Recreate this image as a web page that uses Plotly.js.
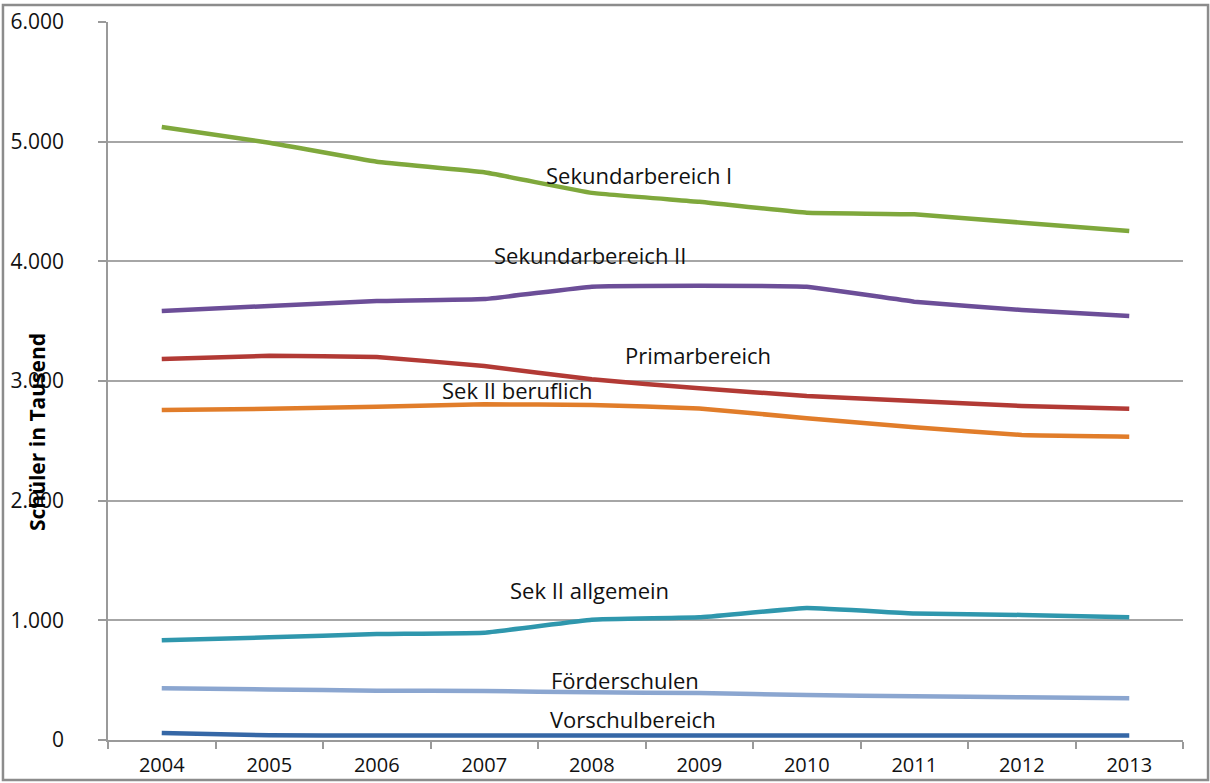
<!DOCTYPE html>
<html>
<head>
<meta charset="utf-8">
<script src="https://cdn.plot.ly/plotly-3.0.1.min.js"></script>
<style>
  html, body { margin: 0; padding: 0; background: #ffffff; }
  #chart { width: 1210px; height: 783px; }
</style>
</head>
<body>
<div id="chart"></div>
<script>
// ---- data (Schüler in Tausend) ----
const years = ["2004", "2005", "2006", "2007", "2008", "2009", "2010", "2011", "2012", "2013"];
const sekundarbereichI  = [5122, 4991, 4832, 4744, 4572, 4498, 4406, 4393, 4323, 4253];
const sekundarbereichII = [3585, 3627, 3668, 3685, 3788, 3796, 3788, 3663, 3593, 3543];
const primarbereich     = [3184, 3211, 3200, 3125, 3014, 2939, 2875, 2833, 2791, 2769];
const sekIIberuflich    = [2758, 2768, 2785, 2805, 2799, 2771, 2688, 2613, 2549, 2535];
const sekIIallgemein    = [833, 858, 886, 897, 1005, 1025, 1103, 1058, 1045, 1025];
const foerderschulen    = [432, 423, 412, 410, 398, 393, 376, 365, 357, 348];
const vorschulbereich   = [58, 39, 38, 38, 38, 38, 38, 38, 38, 38];
const seriesNames = ["Sekundarbereich I", "Sekundarbereich II", "Primarbereich", "Sek II beruflich",
                     "Sek II allgemein", "Förderschulen", "Vorschulbereich"];
const yTicks = [0, 1000, 2000, 3000, 4000, 5000, 6000];
const yAxisTitle = "Schüler in Tausend";

const seriesValues = [sekundarbereichI, sekundarbereichII, primarbereich, sekIIberuflich,
                      sekIIallgemein, foerderschulen, vorschulbereich];
const colors = ["#7fa83c", "#6c4e98", "#b23a35", "#e17d2a", "#2f97ad", "#8ba6d0", "#3567a6"];

const traces = seriesValues.map((vals, i) => ({
  type: "scatter",
  mode: "lines",
  name: seriesNames[i],
  x: years,
  y: vals,
  line: { color: colors[i], width: 4.5, shape: "spline", smoothing: 0.25 },
  hoverinfo: "x+y+name"
}));

// label placement (category index, value) for each series
const labelPos = [
  [4.44, 4720], [3.98, 4050], [4.99, 3215], [3.31, 2925],
  [3.98, 1255], [4.31, 500], [4.38, 175]
];
const annotations = seriesNames.map((n, i) => ({
  text: n, xref: "x", yref: "y", x: labelPos[i][0], y: labelPos[i][1],
  showarrow: false, font: { family: "Open Sans", size: 22, color: "#111111" }
}));
annotations.push({
  text: "<b>" + yAxisTitle + "</b>", xref: "paper", yref: "paper",
  x: -0.066, y: 0.429, xanchor: "center", yanchor: "middle",
  textangle: -90, showarrow: false,
  font: { family: "Open Sans", size: 21, color: "#000000" }
});

const layout = {
  width: 1210, height: 783,
  margin: { l: 108, r: 27, t: 22, b: 43 },
  paper_bgcolor: "#ffffff", plot_bgcolor: "#ffffff",
  showlegend: false,
  separators: ",.",
  font: { family: "Open Sans", color: "#1a1a1a" },
  xaxis: {
    type: "category", range: [-0.5, 9.5],
    showgrid: false, showline: true, linecolor: "#9a9a9a", linewidth: 1.5,
    ticks: "outside", tickson: "boundaries", ticklen: 7, tickcolor: "#9a9a9a", tickwidth: 1.5,
    tickfont: { family: "Open Sans", size: 20, color: "#111111" },
    ticklabelstandoff: 6, zeroline: false, fixedrange: true
  },
  yaxis: {
    range: [0, 6000], tickvals: yTicks, tickformat: ",",
    showgrid: true, gridcolor: "#a6a6a6", gridwidth: 1.5,
    showline: true, linecolor: "#9a9a9a", linewidth: 1.5,
    ticks: "outside", ticklen: 8, tickcolor: "#9a9a9a", tickwidth: 1.5,
    tickfont: { family: "Open Sans", size: 21, color: "#111111" },
    ticklabelstandoff: 30, zeroline: false, fixedrange: true
  },
  annotations: annotations,
  shapes: [{
    type: "rect", xref: "paper", yref: "paper",
    x0: -0.0977, x1: 1.0233, y0: -0.0557, y1: 1.0237,
    line: { color: "#8c8c8c", width: 2.5 }, fillcolor: "rgba(0,0,0,0)", layer: "below"
  }]
};

Plotly.newPlot("chart", traces, layout, { displayModeBar: false });
</script>
</body>
</html>
